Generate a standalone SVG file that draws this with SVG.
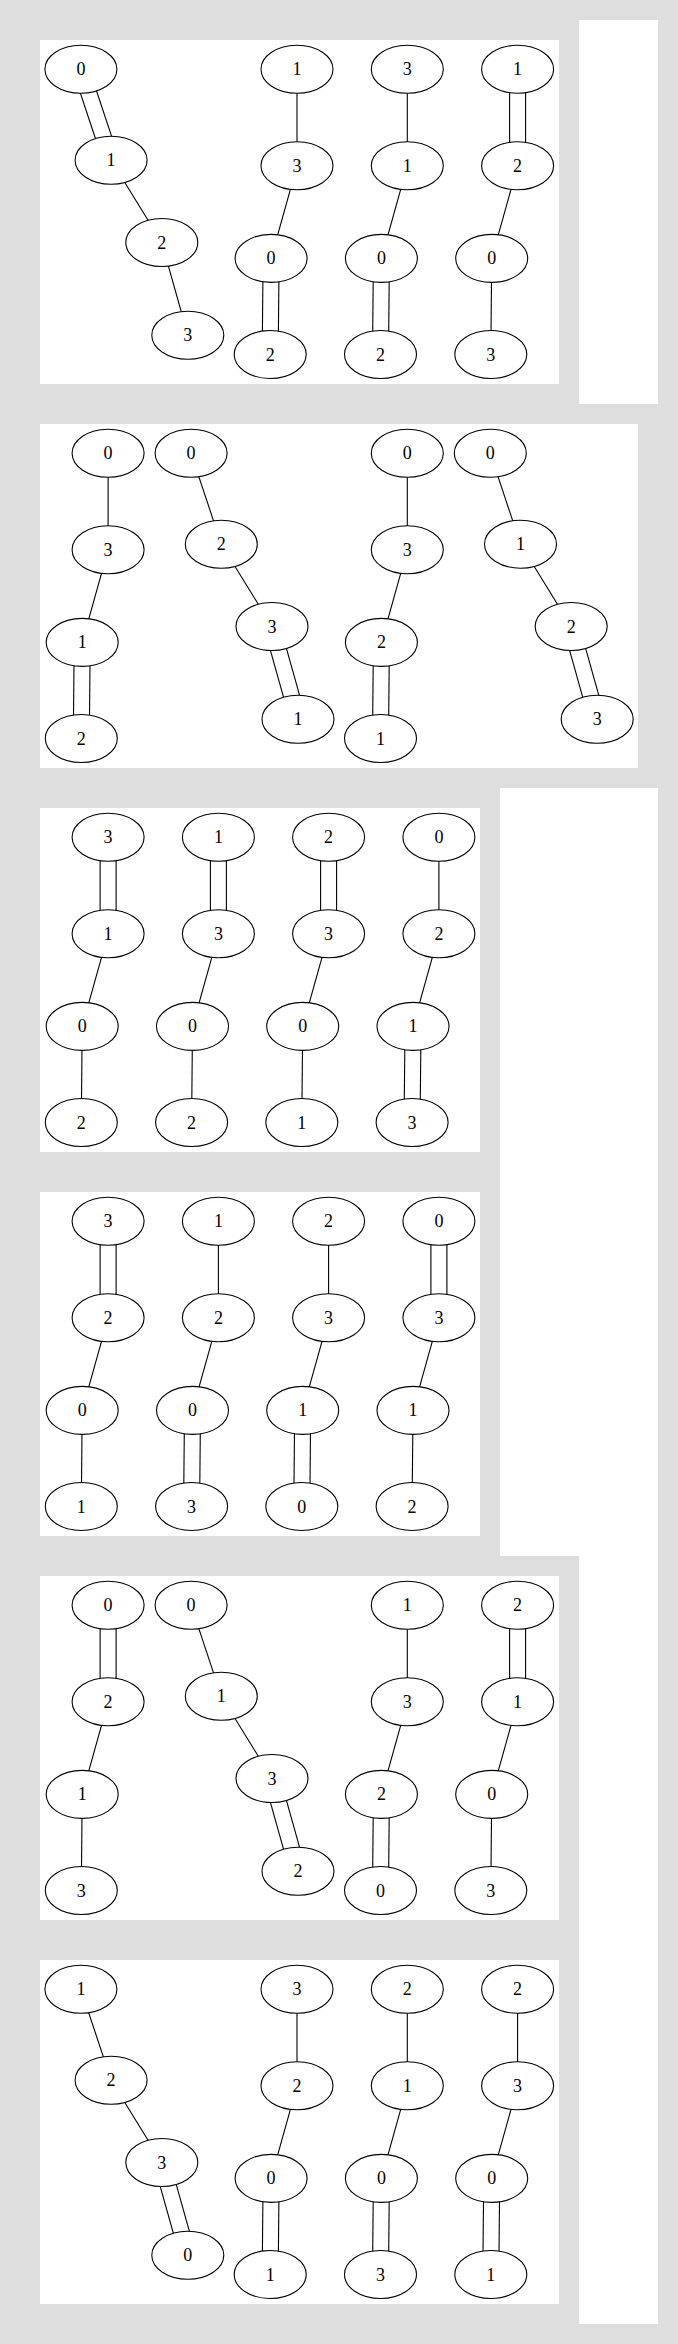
<svg xmlns="http://www.w3.org/2000/svg" width="678" height="2344" viewBox="0 0 678 2344">
<style>
.bg{fill:#dedede}
.pn{fill:#ffffff}
.n ellipse{fill:#ffffff;stroke:#000000;stroke-width:1.1}
.n text{font-family:"Liberation Serif","Times New Roman",serif;font-size:18px;text-anchor:middle;fill:#000000}
.e line{stroke:#000000;stroke-width:1.1;fill:none}
</style>
<rect class="bg" x="0" y="0" width="678" height="2344"/>
<g id="frames">
<rect class="pn" x="579" y="20" width="79" height="384"/>
<rect class="pn" x="500" y="788" width="158" height="768"/>
<rect class="pn" x="579" y="1556" width="79" height="768"/>
<rect class="pn" x="40" y="40" width="519" height="344"/>
<rect class="pn" x="40" y="424" width="598" height="344"/>
<rect class="pn" x="40" y="808" width="440" height="344"/>
<rect class="pn" x="40" y="1192" width="440" height="344"/>
<rect class="pn" x="40" y="1576" width="519" height="344"/>
<rect class="pn" x="40" y="1960" width="519" height="344"/>
</g>

<g id="connectors" class="e">
<!-- Panel A -->
<line x1="73.31" y1="71.82" x2="103.51" y2="162.72"/>
<line x1="88.49" y1="66.78" x2="118.69" y2="157.68"/>
<line x1="111.1" y1="160.2" x2="161.8" y2="242.5"/>
<line x1="161.8" y1="242.5" x2="187.8" y2="335.2"/>
<line x1="297" y1="69.3" x2="297" y2="165.8"/>
<line x1="297" y1="165.8" x2="271.1" y2="258.4"/>
<line x1="263.1" y1="258.4" x2="262.2" y2="354.5"/>
<line x1="279.1" y1="258.4" x2="278.2" y2="354.5"/>
<line x1="407.3" y1="69.3" x2="407.3" y2="165.8"/>
<line x1="407.3" y1="165.8" x2="381.4" y2="258.4"/>
<line x1="373.4" y1="258.4" x2="372.5" y2="354.5"/>
<line x1="389.4" y1="258.4" x2="388.5" y2="354.5"/>
<line x1="509.6" y1="69.3" x2="509.6" y2="165.8"/>
<line x1="525.6" y1="69.3" x2="525.6" y2="165.8"/>
<line x1="517.6" y1="165.8" x2="491.7" y2="258.4"/>
<line x1="491.7" y1="258.4" x2="490.8" y2="354.5"/>
<!-- Panel B -->
<line x1="108.1" y1="453.3" x2="108.1" y2="549.8"/>
<line x1="108.1" y1="549.8" x2="82.2" y2="642.4"/>
<line x1="74.2" y1="642.4" x2="73.3" y2="738.5"/>
<line x1="90.2" y1="642.4" x2="89.3" y2="738.5"/>
<line x1="191.1" y1="453.3" x2="221.3" y2="544.2"/>
<line x1="221.3" y1="544.2" x2="272" y2="626.5"/>
<line x1="264.3" y1="628.66" x2="290.3" y2="721.36"/>
<line x1="279.7" y1="624.34" x2="305.7" y2="717.04"/>
<line x1="407.3" y1="453.3" x2="407.3" y2="549.8"/>
<line x1="407.3" y1="549.8" x2="381.4" y2="642.4"/>
<line x1="373.4" y1="642.4" x2="372.5" y2="738.5"/>
<line x1="389.4" y1="642.4" x2="388.5" y2="738.5"/>
<line x1="490.3" y1="453.3" x2="520.5" y2="544.2"/>
<line x1="520.5" y1="544.2" x2="571.2" y2="626.5"/>
<line x1="563.5" y1="628.66" x2="589.5" y2="721.36"/>
<line x1="578.9" y1="624.34" x2="604.9" y2="717.04"/>
<!-- Panel C -->
<line x1="100.1" y1="837.3" x2="100.1" y2="933.8"/>
<line x1="116.1" y1="837.3" x2="116.1" y2="933.8"/>
<line x1="108.1" y1="933.8" x2="82.2" y2="1026.4"/>
<line x1="82.2" y1="1026.4" x2="81.3" y2="1122.5"/>
<line x1="210.4" y1="837.3" x2="210.4" y2="933.8"/>
<line x1="226.4" y1="837.3" x2="226.4" y2="933.8"/>
<line x1="218.4" y1="933.8" x2="192.5" y2="1026.4"/>
<line x1="192.5" y1="1026.4" x2="191.6" y2="1122.5"/>
<line x1="320.6" y1="837.3" x2="320.6" y2="933.8"/>
<line x1="336.6" y1="837.3" x2="336.6" y2="933.8"/>
<line x1="328.6" y1="933.8" x2="302.7" y2="1026.4"/>
<line x1="302.7" y1="1026.4" x2="301.8" y2="1122.5"/>
<line x1="438.9" y1="837.3" x2="438.9" y2="933.8"/>
<line x1="438.9" y1="933.8" x2="413" y2="1026.4"/>
<line x1="405" y1="1026.4" x2="404.1" y2="1122.5"/>
<line x1="421" y1="1026.4" x2="420.1" y2="1122.5"/>
<!-- Panel D -->
<line x1="100.1" y1="1221.3" x2="100.1" y2="1317.8"/>
<line x1="116.1" y1="1221.3" x2="116.1" y2="1317.8"/>
<line x1="108.1" y1="1317.8" x2="82.2" y2="1410.4"/>
<line x1="82.2" y1="1410.4" x2="81.3" y2="1506.5"/>
<line x1="218.4" y1="1221.3" x2="218.4" y2="1317.8"/>
<line x1="218.4" y1="1317.8" x2="192.5" y2="1410.4"/>
<line x1="184.5" y1="1410.4" x2="183.6" y2="1506.5"/>
<line x1="200.5" y1="1410.4" x2="199.6" y2="1506.5"/>
<line x1="328.6" y1="1221.3" x2="328.6" y2="1317.8"/>
<line x1="328.6" y1="1317.8" x2="302.7" y2="1410.4"/>
<line x1="294.7" y1="1410.4" x2="293.8" y2="1506.5"/>
<line x1="310.7" y1="1410.4" x2="309.8" y2="1506.5"/>
<line x1="430.9" y1="1221.3" x2="430.9" y2="1317.8"/>
<line x1="446.9" y1="1221.3" x2="446.9" y2="1317.8"/>
<line x1="438.9" y1="1317.8" x2="413" y2="1410.4"/>
<line x1="413" y1="1410.4" x2="412.1" y2="1506.5"/>
<!-- Panel E -->
<line x1="100.1" y1="1605.3" x2="100.1" y2="1701.8"/>
<line x1="116.1" y1="1605.3" x2="116.1" y2="1701.8"/>
<line x1="108.1" y1="1701.8" x2="82.2" y2="1794.4"/>
<line x1="82.2" y1="1794.4" x2="81.3" y2="1890.5"/>
<line x1="191.1" y1="1605.3" x2="221.3" y2="1696.2"/>
<line x1="221.3" y1="1696.2" x2="272" y2="1778.5"/>
<line x1="264.3" y1="1780.66" x2="290.3" y2="1873.36"/>
<line x1="279.7" y1="1776.34" x2="305.7" y2="1869.04"/>
<line x1="407.3" y1="1605.3" x2="407.3" y2="1701.8"/>
<line x1="407.3" y1="1701.8" x2="381.4" y2="1794.4"/>
<line x1="373.4" y1="1794.4" x2="372.5" y2="1890.5"/>
<line x1="389.4" y1="1794.4" x2="388.5" y2="1890.5"/>
<line x1="509.6" y1="1605.3" x2="509.6" y2="1701.8"/>
<line x1="525.6" y1="1605.3" x2="525.6" y2="1701.8"/>
<line x1="517.6" y1="1701.8" x2="491.7" y2="1794.4"/>
<line x1="491.7" y1="1794.4" x2="490.8" y2="1890.5"/>
<!-- Panel F -->
<line x1="80.9" y1="1989.3" x2="111.1" y2="2080.2"/>
<line x1="111.1" y1="2080.2" x2="161.8" y2="2162.5"/>
<line x1="154.1" y1="2164.66" x2="180.1" y2="2257.36"/>
<line x1="169.5" y1="2160.34" x2="195.5" y2="2253.04"/>
<line x1="297" y1="1989.3" x2="297" y2="2085.8"/>
<line x1="297" y1="2085.8" x2="271.1" y2="2178.4"/>
<line x1="263.1" y1="2178.4" x2="262.2" y2="2274.5"/>
<line x1="279.1" y1="2178.4" x2="278.2" y2="2274.5"/>
<line x1="407.3" y1="1989.3" x2="407.3" y2="2085.8"/>
<line x1="407.3" y1="2085.8" x2="381.4" y2="2178.4"/>
<line x1="373.4" y1="2178.4" x2="372.5" y2="2274.5"/>
<line x1="389.4" y1="2178.4" x2="388.5" y2="2274.5"/>
<line x1="517.6" y1="1989.3" x2="517.6" y2="2085.8"/>
<line x1="517.6" y1="2085.8" x2="491.7" y2="2178.4"/>
<line x1="483.7" y1="2178.4" x2="482.8" y2="2274.5"/>
<line x1="499.7" y1="2178.4" x2="498.8" y2="2274.5"/>
</g>

<g id="nodes">
<!-- Panel A -->
<g id="A1a" class="n"><ellipse cx="80.9" cy="69.3" rx="36" ry="24"/><text x="80.9" y="75.3">0</text></g>
<g id="A1b" class="n"><ellipse cx="111.1" cy="160.2" rx="36" ry="24"/><text x="111.1" y="166.2">1</text></g>
<g id="A1c" class="n"><ellipse cx="161.8" cy="242.5" rx="36" ry="24"/><text x="161.8" y="248.5">2</text></g>
<g id="A1d" class="n"><ellipse cx="187.8" cy="335.2" rx="36" ry="24"/><text x="187.8" y="341.2">3</text></g>
<g id="A2a" class="n"><ellipse cx="297" cy="69.3" rx="36" ry="24"/><text x="297" y="75.3">1</text></g>
<g id="A2b" class="n"><ellipse cx="297" cy="165.8" rx="36" ry="24"/><text x="297" y="171.8">3</text></g>
<g id="A2c" class="n"><ellipse cx="271.1" cy="258.4" rx="36" ry="24"/><text x="271.1" y="264.4">0</text></g>
<g id="A2d" class="n"><ellipse cx="270.2" cy="354.5" rx="36" ry="24"/><text x="270.2" y="360.5">2</text></g>
<g id="A3a" class="n"><ellipse cx="407.3" cy="69.3" rx="36" ry="24"/><text x="407.3" y="75.3">3</text></g>
<g id="A3b" class="n"><ellipse cx="407.3" cy="165.8" rx="36" ry="24"/><text x="407.3" y="171.8">1</text></g>
<g id="A3c" class="n"><ellipse cx="381.4" cy="258.4" rx="36" ry="24"/><text x="381.4" y="264.4">0</text></g>
<g id="A3d" class="n"><ellipse cx="380.5" cy="354.5" rx="36" ry="24"/><text x="380.5" y="360.5">2</text></g>
<g id="A4a" class="n"><ellipse cx="517.6" cy="69.3" rx="36" ry="24"/><text x="517.6" y="75.3">1</text></g>
<g id="A4b" class="n"><ellipse cx="517.6" cy="165.8" rx="36" ry="24"/><text x="517.6" y="171.8">2</text></g>
<g id="A4c" class="n"><ellipse cx="491.7" cy="258.4" rx="36" ry="24"/><text x="491.7" y="264.4">0</text></g>
<g id="A4d" class="n"><ellipse cx="490.8" cy="354.5" rx="36" ry="24"/><text x="490.8" y="360.5">3</text></g>
<!-- Panel B -->
<g id="B1a" class="n"><ellipse cx="108.1" cy="453.3" rx="36" ry="24"/><text x="108.1" y="459.3">0</text></g>
<g id="B1b" class="n"><ellipse cx="108.1" cy="549.8" rx="36" ry="24"/><text x="108.1" y="555.8">3</text></g>
<g id="B1c" class="n"><ellipse cx="82.2" cy="642.4" rx="36" ry="24"/><text x="82.2" y="648.4">1</text></g>
<g id="B1d" class="n"><ellipse cx="81.3" cy="738.5" rx="36" ry="24"/><text x="81.3" y="744.5">2</text></g>
<g id="B2a" class="n"><ellipse cx="191.1" cy="453.3" rx="36" ry="24"/><text x="191.1" y="459.3">0</text></g>
<g id="B2b" class="n"><ellipse cx="221.3" cy="544.2" rx="36" ry="24"/><text x="221.3" y="550.2">2</text></g>
<g id="B2c" class="n"><ellipse cx="272" cy="626.5" rx="36" ry="24"/><text x="272" y="632.5">3</text></g>
<g id="B2d" class="n"><ellipse cx="298" cy="719.2" rx="36" ry="24"/><text x="298" y="725.2">1</text></g>
<g id="B3a" class="n"><ellipse cx="407.3" cy="453.3" rx="36" ry="24"/><text x="407.3" y="459.3">0</text></g>
<g id="B3b" class="n"><ellipse cx="407.3" cy="549.8" rx="36" ry="24"/><text x="407.3" y="555.8">3</text></g>
<g id="B3c" class="n"><ellipse cx="381.4" cy="642.4" rx="36" ry="24"/><text x="381.4" y="648.4">2</text></g>
<g id="B3d" class="n"><ellipse cx="380.5" cy="738.5" rx="36" ry="24"/><text x="380.5" y="744.5">1</text></g>
<g id="B4a" class="n"><ellipse cx="490.3" cy="453.3" rx="36" ry="24"/><text x="490.3" y="459.3">0</text></g>
<g id="B4b" class="n"><ellipse cx="520.5" cy="544.2" rx="36" ry="24"/><text x="520.5" y="550.2">1</text></g>
<g id="B4c" class="n"><ellipse cx="571.2" cy="626.5" rx="36" ry="24"/><text x="571.2" y="632.5">2</text></g>
<g id="B4d" class="n"><ellipse cx="597.2" cy="719.2" rx="36" ry="24"/><text x="597.2" y="725.2">3</text></g>
<!-- Panel C -->
<g id="C1a" class="n"><ellipse cx="108.1" cy="837.3" rx="36" ry="24"/><text x="108.1" y="843.3">3</text></g>
<g id="C1b" class="n"><ellipse cx="108.1" cy="933.8" rx="36" ry="24"/><text x="108.1" y="939.8">1</text></g>
<g id="C1c" class="n"><ellipse cx="82.2" cy="1026.4" rx="36" ry="24"/><text x="82.2" y="1032.4">0</text></g>
<g id="C1d" class="n"><ellipse cx="81.3" cy="1122.5" rx="36" ry="24"/><text x="81.3" y="1128.5">2</text></g>
<g id="C2a" class="n"><ellipse cx="218.4" cy="837.3" rx="36" ry="24"/><text x="218.4" y="843.3">1</text></g>
<g id="C2b" class="n"><ellipse cx="218.4" cy="933.8" rx="36" ry="24"/><text x="218.4" y="939.8">3</text></g>
<g id="C2c" class="n"><ellipse cx="192.5" cy="1026.4" rx="36" ry="24"/><text x="192.5" y="1032.4">0</text></g>
<g id="C2d" class="n"><ellipse cx="191.6" cy="1122.5" rx="36" ry="24"/><text x="191.6" y="1128.5">2</text></g>
<g id="C3a" class="n"><ellipse cx="328.6" cy="837.3" rx="36" ry="24"/><text x="328.6" y="843.3">2</text></g>
<g id="C3b" class="n"><ellipse cx="328.6" cy="933.8" rx="36" ry="24"/><text x="328.6" y="939.8">3</text></g>
<g id="C3c" class="n"><ellipse cx="302.7" cy="1026.4" rx="36" ry="24"/><text x="302.7" y="1032.4">0</text></g>
<g id="C3d" class="n"><ellipse cx="301.8" cy="1122.5" rx="36" ry="24"/><text x="301.8" y="1128.5">1</text></g>
<g id="C4a" class="n"><ellipse cx="438.9" cy="837.3" rx="36" ry="24"/><text x="438.9" y="843.3">0</text></g>
<g id="C4b" class="n"><ellipse cx="438.9" cy="933.8" rx="36" ry="24"/><text x="438.9" y="939.8">2</text></g>
<g id="C4c" class="n"><ellipse cx="413" cy="1026.4" rx="36" ry="24"/><text x="413" y="1032.4">1</text></g>
<g id="C4d" class="n"><ellipse cx="412.1" cy="1122.5" rx="36" ry="24"/><text x="412.1" y="1128.5">3</text></g>
<!-- Panel D -->
<g id="D1a" class="n"><ellipse cx="108.1" cy="1221.3" rx="36" ry="24"/><text x="108.1" y="1227.3">3</text></g>
<g id="D1b" class="n"><ellipse cx="108.1" cy="1317.8" rx="36" ry="24"/><text x="108.1" y="1323.8">2</text></g>
<g id="D1c" class="n"><ellipse cx="82.2" cy="1410.4" rx="36" ry="24"/><text x="82.2" y="1416.4">0</text></g>
<g id="D1d" class="n"><ellipse cx="81.3" cy="1506.5" rx="36" ry="24"/><text x="81.3" y="1512.5">1</text></g>
<g id="D2a" class="n"><ellipse cx="218.4" cy="1221.3" rx="36" ry="24"/><text x="218.4" y="1227.3">1</text></g>
<g id="D2b" class="n"><ellipse cx="218.4" cy="1317.8" rx="36" ry="24"/><text x="218.4" y="1323.8">2</text></g>
<g id="D2c" class="n"><ellipse cx="192.5" cy="1410.4" rx="36" ry="24"/><text x="192.5" y="1416.4">0</text></g>
<g id="D2d" class="n"><ellipse cx="191.6" cy="1506.5" rx="36" ry="24"/><text x="191.6" y="1512.5">3</text></g>
<g id="D3a" class="n"><ellipse cx="328.6" cy="1221.3" rx="36" ry="24"/><text x="328.6" y="1227.3">2</text></g>
<g id="D3b" class="n"><ellipse cx="328.6" cy="1317.8" rx="36" ry="24"/><text x="328.6" y="1323.8">3</text></g>
<g id="D3c" class="n"><ellipse cx="302.7" cy="1410.4" rx="36" ry="24"/><text x="302.7" y="1416.4">1</text></g>
<g id="D3d" class="n"><ellipse cx="301.8" cy="1506.5" rx="36" ry="24"/><text x="301.8" y="1512.5">0</text></g>
<g id="D4a" class="n"><ellipse cx="438.9" cy="1221.3" rx="36" ry="24"/><text x="438.9" y="1227.3">0</text></g>
<g id="D4b" class="n"><ellipse cx="438.9" cy="1317.8" rx="36" ry="24"/><text x="438.9" y="1323.8">3</text></g>
<g id="D4c" class="n"><ellipse cx="413" cy="1410.4" rx="36" ry="24"/><text x="413" y="1416.4">1</text></g>
<g id="D4d" class="n"><ellipse cx="412.1" cy="1506.5" rx="36" ry="24"/><text x="412.1" y="1512.5">2</text></g>
<!-- Panel E -->
<g id="E1a" class="n"><ellipse cx="108.1" cy="1605.3" rx="36" ry="24"/><text x="108.1" y="1611.3">0</text></g>
<g id="E1b" class="n"><ellipse cx="108.1" cy="1701.8" rx="36" ry="24"/><text x="108.1" y="1707.8">2</text></g>
<g id="E1c" class="n"><ellipse cx="82.2" cy="1794.4" rx="36" ry="24"/><text x="82.2" y="1800.4">1</text></g>
<g id="E1d" class="n"><ellipse cx="81.3" cy="1890.5" rx="36" ry="24"/><text x="81.3" y="1896.5">3</text></g>
<g id="E2a" class="n"><ellipse cx="191.1" cy="1605.3" rx="36" ry="24"/><text x="191.1" y="1611.3">0</text></g>
<g id="E2b" class="n"><ellipse cx="221.3" cy="1696.2" rx="36" ry="24"/><text x="221.3" y="1702.2">1</text></g>
<g id="E2c" class="n"><ellipse cx="272" cy="1778.5" rx="36" ry="24"/><text x="272" y="1784.5">3</text></g>
<g id="E2d" class="n"><ellipse cx="298" cy="1871.2" rx="36" ry="24"/><text x="298" y="1877.2">2</text></g>
<g id="E3a" class="n"><ellipse cx="407.3" cy="1605.3" rx="36" ry="24"/><text x="407.3" y="1611.3">1</text></g>
<g id="E3b" class="n"><ellipse cx="407.3" cy="1701.8" rx="36" ry="24"/><text x="407.3" y="1707.8">3</text></g>
<g id="E3c" class="n"><ellipse cx="381.4" cy="1794.4" rx="36" ry="24"/><text x="381.4" y="1800.4">2</text></g>
<g id="E3d" class="n"><ellipse cx="380.5" cy="1890.5" rx="36" ry="24"/><text x="380.5" y="1896.5">0</text></g>
<g id="E4a" class="n"><ellipse cx="517.6" cy="1605.3" rx="36" ry="24"/><text x="517.6" y="1611.3">2</text></g>
<g id="E4b" class="n"><ellipse cx="517.6" cy="1701.8" rx="36" ry="24"/><text x="517.6" y="1707.8">1</text></g>
<g id="E4c" class="n"><ellipse cx="491.7" cy="1794.4" rx="36" ry="24"/><text x="491.7" y="1800.4">0</text></g>
<g id="E4d" class="n"><ellipse cx="490.8" cy="1890.5" rx="36" ry="24"/><text x="490.8" y="1896.5">3</text></g>
<!-- Panel F -->
<g id="F1a" class="n"><ellipse cx="80.9" cy="1989.3" rx="36" ry="24"/><text x="80.9" y="1995.3">1</text></g>
<g id="F1b" class="n"><ellipse cx="111.1" cy="2080.2" rx="36" ry="24"/><text x="111.1" y="2086.2">2</text></g>
<g id="F1c" class="n"><ellipse cx="161.8" cy="2162.5" rx="36" ry="24"/><text x="161.8" y="2168.5">3</text></g>
<g id="F1d" class="n"><ellipse cx="187.8" cy="2255.2" rx="36" ry="24"/><text x="187.8" y="2261.2">0</text></g>
<g id="F2a" class="n"><ellipse cx="297" cy="1989.3" rx="36" ry="24"/><text x="297" y="1995.3">3</text></g>
<g id="F2b" class="n"><ellipse cx="297" cy="2085.8" rx="36" ry="24"/><text x="297" y="2091.8">2</text></g>
<g id="F2c" class="n"><ellipse cx="271.1" cy="2178.4" rx="36" ry="24"/><text x="271.1" y="2184.4">0</text></g>
<g id="F2d" class="n"><ellipse cx="270.2" cy="2274.5" rx="36" ry="24"/><text x="270.2" y="2280.5">1</text></g>
<g id="F3a" class="n"><ellipse cx="407.3" cy="1989.3" rx="36" ry="24"/><text x="407.3" y="1995.3">2</text></g>
<g id="F3b" class="n"><ellipse cx="407.3" cy="2085.8" rx="36" ry="24"/><text x="407.3" y="2091.8">1</text></g>
<g id="F3c" class="n"><ellipse cx="381.4" cy="2178.4" rx="36" ry="24"/><text x="381.4" y="2184.4">0</text></g>
<g id="F3d" class="n"><ellipse cx="380.5" cy="2274.5" rx="36" ry="24"/><text x="380.5" y="2280.5">3</text></g>
<g id="F4a" class="n"><ellipse cx="517.6" cy="1989.3" rx="36" ry="24"/><text x="517.6" y="1995.3">2</text></g>
<g id="F4b" class="n"><ellipse cx="517.6" cy="2085.8" rx="36" ry="24"/><text x="517.6" y="2091.8">3</text></g>
<g id="F4c" class="n"><ellipse cx="491.7" cy="2178.4" rx="36" ry="24"/><text x="491.7" y="2184.4">0</text></g>
<g id="F4d" class="n"><ellipse cx="490.8" cy="2274.5" rx="36" ry="24"/><text x="490.8" y="2280.5">1</text></g>
</g>
</svg>
